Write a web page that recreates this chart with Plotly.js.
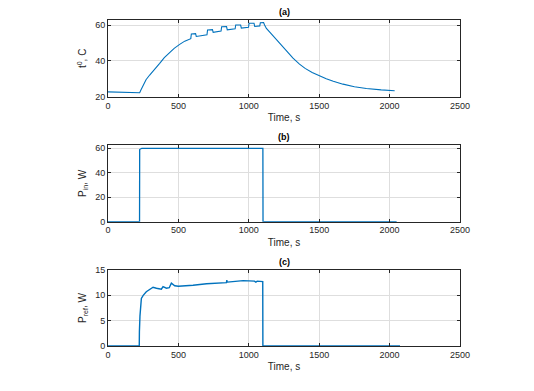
<!DOCTYPE html>
<html>
<head>
<meta charset="utf-8">
<script src="https://cdn.plot.ly/plotly-3.0.1.min.js"></script>
<style>html,body{margin:0;padding:0;background:#fff;}#chart{width:534px;height:391px;}</style>
</head>
<body>
<div id="chart"></div>
<script>
// Panel (a): temperature
const tempTime = [0,100,225,232,249,270,296,330,367,400,438,470,509,545,588,
  592,622,627,660,703,
  707,742,747,780,803,
  807,842,847,880,903,
  907,942,947,975,998,
  1002,1037,1042,1065,1078,
  1082,1105,1112,1125,1160,1219,1260,1314,1360,1400,1450,1494,1550,1600,1669,1750,1835,1940,2036];
const tempVal = [22.7,22.5,22.2,23.5,26.5,29.5,32.1,35.5,38.6,41.8,44.7,47.0,49.2,51.0,52.4,
  55.0,55.2,53.6,54.0,54.6,
  57.2,57.4,55.9,56.2,56.6,
  59.0,59.1,57.3,57.6,57.9,
  60.0,60.0,58.3,58.5,58.7,
  61.0,61.0,59.2,59.4,59.5,
  61.3,61.4,60.0,58.1,55.0,49.8,46.3,41.5,38.2,35.8,33.5,31.8,30.0,28.6,27.0,25.6,24.6,23.8,23.3];
// Panel (b): input power
const pinTime = [0,224,225,232,240,1100,1101,2050];
const pinVal  = [0,0,59,59.3,60,60,0,0];
// Panel (c): reflected power
const prefTime = [0,222,223,225,227,237,250,272,300,320,344,365,379,391,415,435,450,474,500,604,
  700,841,844,846,848,900,960,1040,1050,1060,1078,1099,1100,2074];
const prefVal  = [0,0,2.8,4.5,5.9,9.4,10,10.7,11.3,11.6,11.4,11.2,11.2,11.7,11.4,11.5,12.4,11.9,11.8,12.0,
  12.3,12.5,13.0,12.6,12.6,12.8,12.9,12.8,12.6,12.8,12.8,12.7,0,0];

const panelTitles = ['(a)','(b)','(c)'];
const yTitles = ['t<sup>0</sup>, C','P<sub>in</sub>, W','P<sub>ref</sub>, W'];
const xTitle = 'Time, s';

const blue = '#0072BD';
const txt = '#262626';
const font = {family:'Liberation Sans, Arial, sans-serif', size:9, color:txt};

function xax(anchor){
  return {domain:[0,1], range:[0,2500], tickvals:[0,500,1000,1500,2000,2500],
    anchor:anchor, showline:true, mirror:'ticks', linecolor:txt, linewidth:1,
    ticks:'inside', ticklen:3, tickcolor:txt, showgrid:true, gridcolor:'#dedede', gridwidth:1,
    zeroline:false, tickfont:font, automargin:false,
    title:{text:xTitle, font:{family:font.family,size:10,color:txt}, standoff:4}};
}
function yax(anchor, dom, rng, tv, title){
  return {domain:dom, range:rng, tickvals:tv, anchor:anchor,
    showline:true, mirror:'ticks', linecolor:txt, linewidth:1,
    ticks:'inside', ticklen:3, tickcolor:txt, showgrid:true, gridcolor:'#dedede', gridwidth:1,
    zeroline:false, tickfont:font, automargin:false,
    title:{text:title, font:{family:font.family,size:10,color:txt}, standoff:6}};
}

const traces = [
  {x:tempTime, y:tempVal, type:'scatter', mode:'lines', line:{color:blue,width:1.1}, xaxis:'x', yaxis:'y'},
  {x:pinTime, y:pinVal, type:'scatter', mode:'lines', line:{color:blue,width:1.3}, xaxis:'x2', yaxis:'y2'},
  {x:prefTime, y:prefVal, type:'scatter', mode:'lines', line:{color:blue,width:1.4}, xaxis:'x3', yaxis:'y3'}
];

const domA=[0.7647,1], domB=[0.3813,0.6166], domC=[0,0.2331];
const layout = {
  width:534, height:391, showlegend:false,
  paper_bgcolor:'#fff', plot_bgcolor:'#fff',
  margin:{l:108, r:74, t:20, b:45},
  font:font,
  xaxis:xax('y'), yaxis:yax('x', domA, [20,62.8], [20,40,60], yTitles[0]),
  xaxis2:xax('y2'), yaxis2:yax('x2', domB, [0,62.7], [0,20,40,60], yTitles[1]),
  xaxis3:xax('y3'), yaxis3:yax('x3', domC, [0,15], [0,5,10,15], yTitles[2]),
  annotations:[domA,domB,domC].map((d,i)=>({
    text:'<b>'+panelTitles[i]+'</b>', xref:'paper', yref:'paper', x:0.5, y:d[1],
    xanchor:'center', yanchor:'bottom', yshift:1, showarrow:false,
    font:{family:font.family,size:9,color:'#000'}
  }))
};
Plotly.newPlot('chart', traces, layout, {displayModeBar:false, staticPlot:true});
</script>
</body>
</html>
